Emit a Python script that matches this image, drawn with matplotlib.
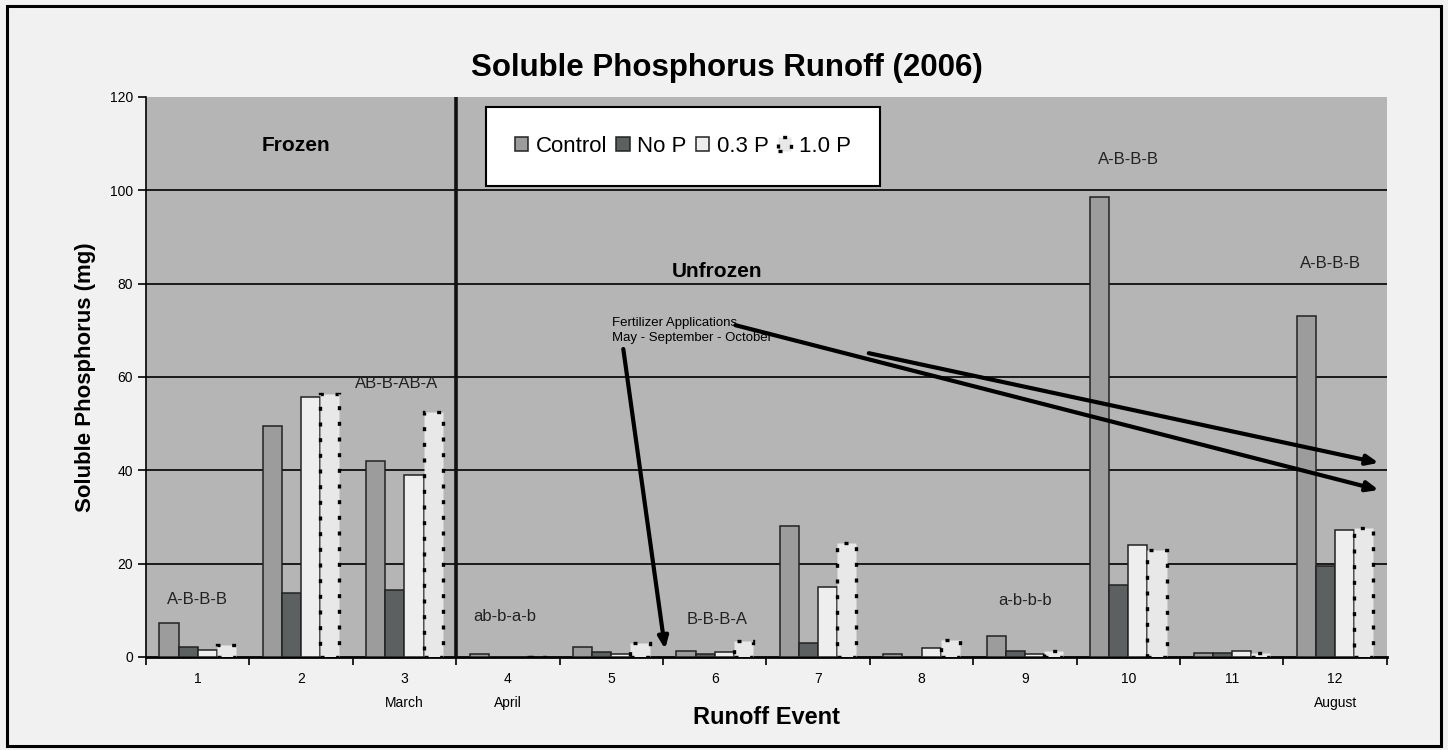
import numpy as np
import matplotlib.pyplot as plt
from matplotlib.patches import Rectangle
from matplotlib.transforms import blended_transform_factory

# --- data ---
events = np.arange(1, 13)
control = [7.3, 49.6, 41.9, 0.6, 2.1, 1.3, 28.0, 0.6, 4.6, 98.5, 0.9, 73.0]
no_p = [2.2, 13.7, 14.4, 0.1, 1.0, 0.7, 3.1, 0.1, 1.2, 15.5, 0.9, 19.6]
p03 = [1.4, 55.8, 39.0, 0.1, 0.6, 1.1, 15.1, 1.9, 0.7, 24.0, 1.3, 27.2]
p10 = [2.6, 56.4, 52.6, 0.1, 2.9, 3.5, 24.4, 3.6, 1.2, 22.9, 0.9, 27.7]
series_names = ["Control", "No P", "0.3 P", "1.0 P"]

month_labels = {3: "March", 4: "April", 12: "August"}
letters = [(1, 12.4, "A-B-B-B"), (2.92, 58.5, "AB-B-AB-A"), (3.97, 8.6, "ab-b-a-b"),
           (6.02, 8.1, "B-B-B-A"), (9.0, 12.0, "a-b-b-b"), (10.0, 106.5, "A-B-B-B"),
           (11.95, 84.4, "A-B-B-B")]

narrow = ["Liberation Sans Narrow", "Liberation Sans", "DejaVu Sans"]
plt.rcParams["font.family"] = ["Liberation Sans", "DejaVu Sans"]

fig = plt.figure(figsize=(14.48, 7.5), dpi=100)
fig.patch.set_facecolor("#f1f1f1")
fig.patches.append(Rectangle((0.005, 0.005), 0.99, 0.987, transform=fig.transFigure,
                             fill=False, edgecolor="black", linewidth=2.2))

ax = fig.add_axes([0.1008, 0.124, 0.857, 0.7467])
ax.set_facecolor("#b5b5b5")

w = 0.185
styles = [
    dict(color="#9c9c9c", edgecolor="#222222", linewidth=1.1),
    dict(color="#5c6060", edgecolor="#222222", linewidth=1.1),
    dict(color="#eeeeee", edgecolor="#222222", linewidth=1.1),
    dict(color="#e8e8e8", edgecolor="black", linewidth=2.4, linestyle=(0, (1.2, 3.5))),
]
for k, vals in enumerate([control, no_p, p03, p10]):
    ax.bar(events + (k - 1.5) * w, vals, width=w, label=series_names[k],
           zorder=3, **styles[k])

# gridlines and divider
for yv in range(20, 101, 20):
    ax.axhline(yv, color="#1a1a1a", linewidth=1.4, zorder=1)
ax.axvline(3.5, color="#111111", linewidth=2.6, zorder=4)

ax.set_xlim(0.5, 12.5)
ax.set_ylim(0, 120)
ax.set_yticks(range(0, 121, 20))
ax.set_xticks(events)
ax.set_xticks(np.arange(0.5, 12.6, 1), minor=True)
ax.tick_params(axis="x", which="major", length=0, pad=11, labelsize=10)
ax.tick_params(axis="x", which="minor", length=6, width=1.2, direction="out")
ax.tick_params(axis="y", length=6, width=1.2, labelsize=10)
for lab in ax.get_xticklabels() + ax.get_yticklabels():
    lab.set_family(narrow)
for s in ["top", "right"]:
    ax.spines[s].set_visible(False)
ax.spines["bottom"].set_linewidth(2)
ax.spines["left"].set_linewidth(1.2)

trans = blended_transform_factory(ax.transData, ax.transAxes)
for ev, name in month_labels.items():
    ax.text(ev, -0.082, name, transform=trans, ha="center", va="center",
            fontsize=10, family=narrow)

ax.set_xlabel("Runoff Event", fontsize=17, fontweight="bold", labelpad=14)
ax.set_ylabel("Soluble Phosphorus (mg)", fontsize=16, fontweight="bold", labelpad=10)
fig.suptitle("Soluble Phosphorus Runoff (2006)", fontsize=22.5, fontweight="bold",
             x=0.502, y=0.909, va="center")

# region labels
ax.text(1.95, 109.5, "Frozen", fontsize=15, fontweight="bold", ha="center", va="center")
ax.text(6.02, 82.5, "Unfrozen", fontsize=15, fontweight="bold", ha="center", va="center")

for xv, yv, txt in letters:
    ax.text(xv, yv, txt, fontsize=12, ha="center", va="center", family=narrow,
            color="#222222", zorder=5)

ax.text(5.01, 70.0, "Fertilizer Applications\nMay - September - October",
        fontsize=9.5, family=narrow, ha="left", va="center", linespacing=1.4, zorder=5)

arrow_kw = dict(arrowstyle="-|>,head_length=0.7,head_width=0.3", color="black",
                lw=3, shrinkA=0, shrinkB=0)
ax.annotate("", xy=(5.52, 1.7), xytext=(5.116, 66.0), arrowprops=arrow_kw, zorder=6)
ax.annotate("", xy=(12.42, 35.8), xytext=(6.2, 71.1), arrowprops=arrow_kw, zorder=6)
ax.annotate("", xy=(12.42, 41.6), xytext=(7.49, 65.1), arrowprops=arrow_kw, zorder=6)

leg = ax.legend(loc="upper left", bbox_to_anchor=(0.274, 0.982), ncol=4, fontsize=16,
                frameon=True, fancybox=False, edgecolor="black", facecolor="white",
                framealpha=1, handlelength=0.6, handleheight=0.6, handletextpad=0.35,
                columnspacing=0.4, borderpad=1.3, borderaxespad=0)
leg.get_frame().set_linewidth(1.5)
leg.set_zorder(7)

fig.savefig("out.png", dpi=100, facecolor=fig.get_facecolor())
